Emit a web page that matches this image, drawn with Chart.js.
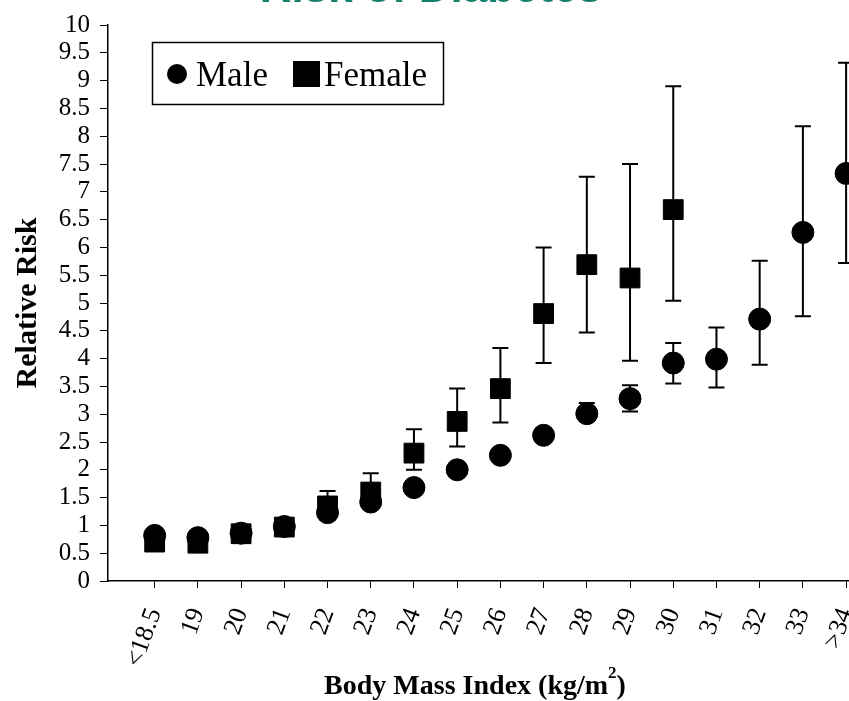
<!DOCTYPE html>
<html>
<head>
<meta charset="utf-8">
<script src="https://cdn.jsdelivr.net/npm/chart.js@4/dist/chart.umd.min.js"></script>
<style>
  html, body { margin: 0; padding: 0; background: #fff; overflow: hidden; }
  #riskChart { position: absolute; left: 0; top: 0; }
</style>
</head>
<body>
<canvas id="riskChart" width="900" height="701"></canvas>
<script>
// BMI categories and relative risk (point estimate + 95% CI)
const bmiLabels = ["<18.5", "19", "20", "21", "22", "23", "24", "25", "26", "27", "28", "29", "30", "31", "32", "33", ">34"];

const maleRisk = [0.82, 0.78, 0.86, 0.98, 1.23, 1.42, 1.68, 2.0, 2.26, 2.62, 3.01, 3.28, 3.92, 3.99, 4.71, 6.27, 7.33];
const maleLow  = [0.75, 0.72, 0.80, 0.92, 1.13, 1.33, 1.58, 1.90, 2.15, 2.50, 2.88, 3.05, 3.55, 3.48, 3.89, 4.76, 5.72];
const maleHigh = [0.90, 0.85, 0.93, 1.05, 1.33, 1.52, 1.78, 2.10, 2.38, 2.75, 3.20, 3.52, 4.28, 4.56, 5.76, 8.18, 9.32];

const femaleRisk = [0.70, 0.68, 0.85, 0.97, 1.35, 1.60, 2.30, 2.87, 3.46, 4.81, 5.69, 5.45, 6.68];
const femaleLow  = [0.60, 0.58, 0.75, 0.88, 1.10, 1.30, 2.00, 2.42, 2.85, 3.92, 4.47, 3.96, 5.04];
const femaleHigh = [0.80, 0.78, 0.95, 1.07, 1.62, 1.94, 2.73, 3.46, 4.19, 6.00, 7.27, 7.50, 8.90];

const serif = "'Liberation Serif', 'Times New Roman', serif";

// confidence interval whiskers, drawn under the markers
const errorBars = {
    id: "errorBars",
    beforeDatasetsDraw(chart) {
        const { ctx, scales: { x, y } } = chart;
        const groups = [[maleLow, maleHigh], [femaleLow, femaleHigh]];
        ctx.save();
        ctx.strokeStyle = "#000";
        ctx.lineWidth = 2;
        groups.forEach(([lo, hi]) => {
            lo.forEach((l, i) => {
                const px = x.getPixelForValue(i);
                const top = y.getPixelForValue(hi[i]);
                const bot = y.getPixelForValue(l);
                ctx.beginPath();
                ctx.moveTo(px, top); ctx.lineTo(px, bot);
                ctx.moveTo(px - 8, top); ctx.lineTo(px + 8, top);
                ctx.moveTo(px - 8, bot); ctx.lineTo(px + 8, bot);
                ctx.stroke();
            });
        });
        ctx.restore();
    }
};

// boxed legend inside the plot, the x axis caption with its superscript,
// and the heading running off the top edge
const annotations = {
    id: "annotations",
    afterDraw(chart) {
        const ctx = chart.ctx;
        ctx.save();
        ctx.fillStyle = "#fff";
        ctx.fillRect(152, 42, 291, 62);
        ctx.strokeStyle = "#000";
        ctx.lineWidth = 1.5;
        ctx.strokeRect(152.5, 42.5, 291, 62);

        ctx.fillStyle = "#000";
        ctx.beginPath();
        ctx.arc(177, 74, 10, 0, Math.PI * 2);
        ctx.fill();
        ctx.fillRect(293, 61, 27, 26);

        ctx.font = "35px " + serif;
        ctx.textBaseline = "alphabetic";
        ctx.fillText("Male", 196, 86);
        ctx.fillText("Female", 324, 86);

        // x axis caption: Body Mass Index (kg/m²)
        const main = "Body Mass Index (kg/m";
        ctx.font = "bold 28px " + serif;
        const wMain = ctx.measureText(main).width;
        const wParen = ctx.measureText(")").width;
        ctx.font = "bold 17px " + serif;
        const wSup = ctx.measureText("2").width;
        let cx = 475 - (wMain + wSup + wParen) / 2;
        ctx.font = "bold 28px " + serif;
        ctx.fillText(main, cx, 694);
        cx += wMain;
        ctx.font = "bold 17px " + serif;
        ctx.fillText("2", cx, 678);
        cx += wSup;
        ctx.font = "bold 28px " + serif;
        ctx.fillText(")", cx, 694);

        ctx.fillStyle = "#17806d";
        ctx.font = "bold 44px 'Liberation Sans', Arial, sans-serif";
        ctx.textAlign = "center";
        ctx.fillText("Risk of Diabetes", 431, 2);
        ctx.restore();
    }
};

new Chart(document.getElementById("riskChart"), {
    type: "scatter",
    data: {
        datasets: [{
            label: "Male",
            data: maleRisk.map((v, i) => ({ x: i, y: v })),
            pointStyle: "circle",
            pointRadius: 11,
            pointHoverRadius: 11,
            backgroundColor: "#000",
            borderColor: "#000"
        }, {
            label: "Female",
            data: femaleRisk.map((v, i) => ({ x: i, y: v })),
            pointStyle: "rect",
            pointRadius: 14,
            pointHoverRadius: 14,
            backgroundColor: "#000",
            borderColor: "#000"
        }]
    },
    options: {
        responsive: false,
        animation: false,
        devicePixelRatio: 1,
        layout: { padding: { top: 20, right: 10, left: 0, bottom: 0 } },
        plugins: {
            legend: { display: false },
            tooltip: { enabled: false }
        },
        scales: {
            x: {
                type: "linear",
                min: -1.08,
                max: 16.9,
                afterBuildTicks: (scale) => {
                    scale.ticks = bmiLabels.map((_, i) => ({ value: i }));
                },
                afterFit: (scale) => { scale.height = 120; },
                grid: { drawOnChartArea: false, color: "#000", tickLength: 7 },
                border: { color: "#000", width: 1.5 },
                ticks: {
                    autoSkip: false,
                    minRotation: 70,
                    maxRotation: 70,
                    padding: 16,
                    color: "#000",
                    font: { family: serif, size: 26 },
                    callback: (v) => bmiLabels[v]
                }
            },
            y: {
                min: 0,
                max: 10,
                afterFit: (scale) => { scale.width = 108; },
                grid: { drawOnChartArea: false, color: "#000", tickLength: 8 },
                border: { color: "#000", width: 1.5 },
                ticks: {
                    stepSize: 0.5,
                    autoSkip: false,
                    maxTicksLimit: 30,
                    padding: 10,
                    color: "#000",
                    font: { family: serif, size: 25 },
                    callback: (v) => String(v)
                },
                title: {
                    display: true,
                    text: "Relative Risk",
                    color: "#000",
                    padding: { top: 10, bottom: 0 },
                    font: { family: serif, size: 30, weight: "bold" }
                }
            }
        }
    },
    plugins: [errorBars, annotations]
});
</script>
</body>
</html>
